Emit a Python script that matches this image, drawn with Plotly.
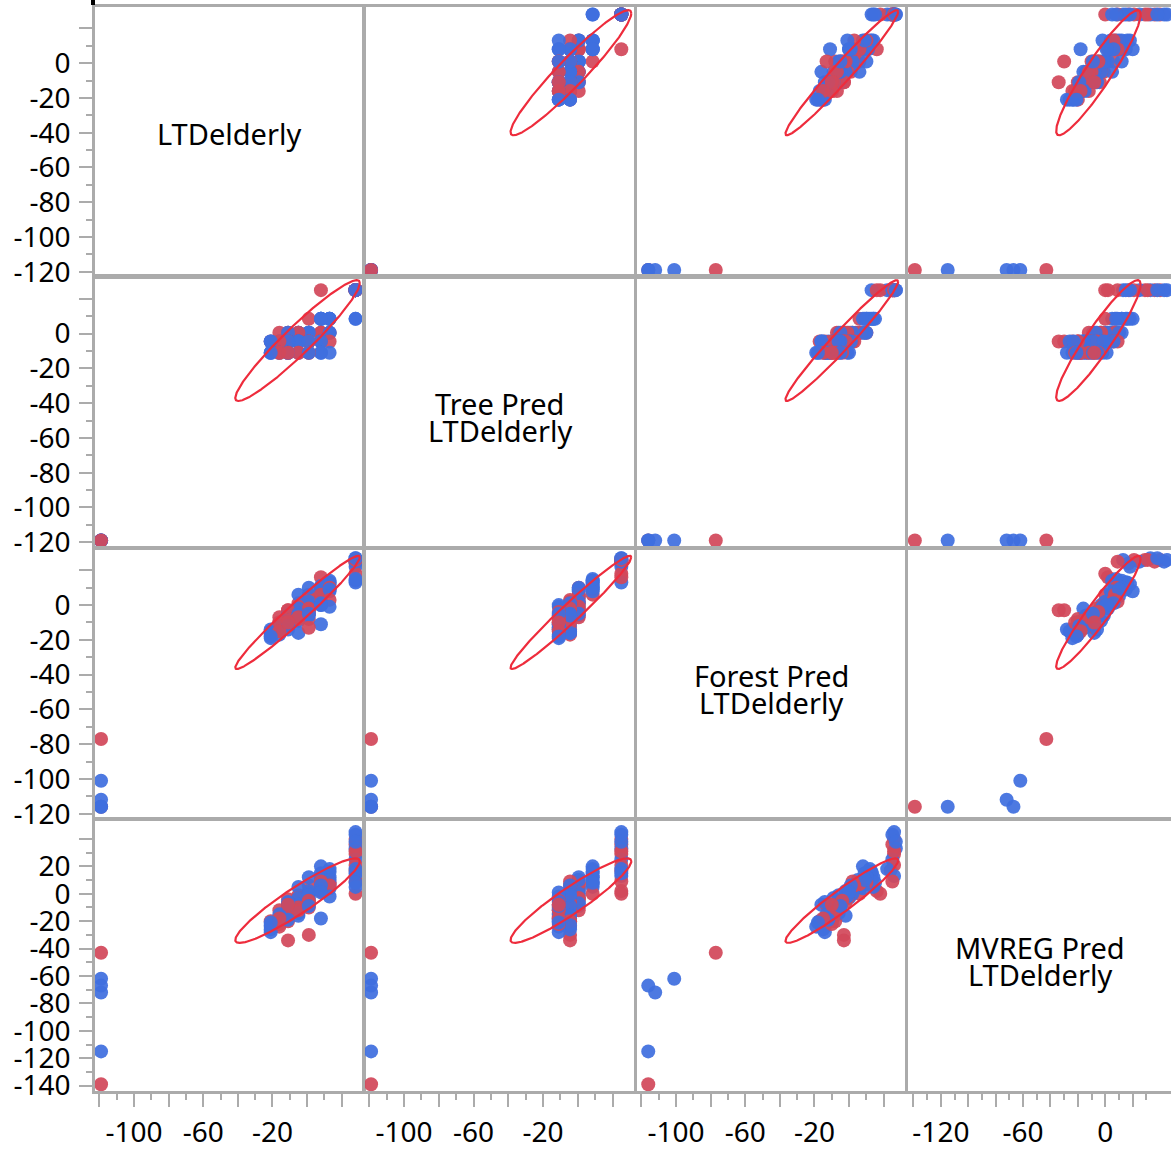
import numpy as np
import plotly.graph_objects as go

# ---------------- data ----------------
diag_titles = [["LTDelderly"], ["Tree Pred", "LTDelderly"],
               ["Forest Pred", "LTDelderly"], ["MVREG Pred", "LTDelderly"]]

ltd = [28, 28, 28, 28, 28, 28, 28, 28, 28, 28, 28, 28, 8, 28, 28, 28, 28,
       28, 13, 13, 8, 8, 13, 1, 8, 13, 8, 28,
       13, 13, 8, 8, 1, 1, 1, -5, -5, -11, -11, -16, 1, -5, 8, 1, -5, 13, -11,
       8, 8, 13, 1, 1, 1, -5, -5, -5, -11, -11, -11, -16, -16, -21, -21, -5, 8, 1, -5, -11, -16, -21, 1,
       8, 13, 8, 1, 1, -5, -5, -11, -11, -16, -16, -21, -21, -16, -11, -5, -11, -16, -21, 1, -11,
       -119, -119, -119, -119, -119, -119]
tree = [25, 25, 25, 25, 25, 25, 25, 25, 25, 25, 25, 25, 25, 25, 25, 25, 25,
        8.5, 8.5, 8.5, 8.5, 8.5, 8.5, 8.5, 8.5, 8.5, 8.5, 8.5,
        0.5, 0.5, 0.5, 0.5, 0.5, 0.5, 0.5, 0.5, 0.5, 0.5, 0.5, 0.5, 0.5, 0.5, 0.5, 0.5, 0.5, 0.5, 0.5,
        -4.5, -4.5, -4.5, -4.5, -4.5, -4.5, -4.5, -4.5, -4.5, -4.5, -4.5, -4.5, -4.5, -4.5, -4.5, -4.5, -4.5,
        -4.5, -4.5, -4.5, -4.5, -4.5, -4.5, -4.5,
        -11, -11, -11, -11, -11, -11, -11, -11, -11, -11, -11, -11, -11, -11, -11, -11, -11, -11, -11, -11, -11,
        -119, -119, -119, -119, -119, -119]
forest = [26, 25, 27, 26, 25, 26, 24, 26, 25, 22, 18, 13, 16, 26, 25, 26, 27,
          14, 12, 14, 9, 11, 10, 6, 8, 13, 10, 15,
          10, 8, 5, 2, 4, 0, -2, 1, -4, -6, -3, -7, 10, 6, 6, 2, -1, 9, -5,
          2, 0, 3, -3, -5, -8, -6, -9, -2, -3, -10, -8, -12, -14, -17, -15, -16, 1, -2, -5, -9, -10, -16, -6,
          -11, -1, 0, -13, -4, -8, -6, -11, -9, -13, -17, -19, -14, -10, -14, -7, -12, -15, -18, -5, -10,
          -116, -101, -112, -116, -116, -77]
mvreg = [40, 36, 33, 29, 25, 21, 17, 13, 9, 18, 0, 15, 2, 45, 43, 31, 38,
         5, 18, 12, 15, 9, 7, 0, 20, 16, 12, 8,
         8, 4, 10, 3, 6, -3, 2, -1, -6, -9, -4, -12, 12, 5, 7, 0, -3, 10, -7,
         9, 3, 6, -30, -5, -10, -12, -3, -16, -34, -14, -20, -18, -24, -20, -26, -8, 6, -6, -9, -16, -20, -23, -1,
         -18, -2, 1, -8, -5, -10, -14, -12, -17, -15, -20, -24, -28, -22, -6, -12, -19, -18, -21, -9, -8,
         -139, -62, -72, -67, -115, -43]
group = ["R", "R", "B", "R", "B", "R", "R", "B", "R", "B", "R", "B", "R", "B", "B", "R", "B",
         "B", "B", "B", "B", "B", "B", "R", "B", "B", "B", "B",
         "R", "B", "B", "R", "R", "B", "B", "R", "B", "B", "R", "R", "B", "B", "R", "B", "R", "B", "B",
         "R", "B", "R", "R", "B", "R", "R", "B", "B", "R", "B", "R", "B", "R", "R", "B", "B", "B", "R", "B", "B", "R", "B", "B",
         "B", "B", "B", "R", "R", "R", "B", "B", "R", "B", "B", "B", "B", "R", "B", "R", "B", "R", "B", "B", "R",
         "R", "B", "B", "B", "B", "R"]

# density-ellipse statistics read from the drawn ellipses
ell_mean = [-5.5, -4.0, -4.2, -5.0]
ell_sd = [14.7, 14.2, 13.3, 12.6]
ell_corr = [[1.0, 0.95, 0.975, 0.93],
            [0.95, 1.0, 0.975, 0.93],
            [0.975, 0.975, 1.0, 0.95],
            [0.93, 0.93, 0.95, 1.0]]

# tick values / labels
x_tickvals_a = [-120, -100, -80, -60, -40, -20, 0, 20]
x_ticktext_a = ["", "-100", "", "-60", "", "-20", "", ""]
x_minor_a = [-110, -90, -70, -50, -30, -10, 10]
x_tickvals_b = [-140, -120, -100, -80, -60, -40, -20, 0, 20]
x_ticktext_b = ["", "-120", "", "", "-60", "", "", "0", ""]
x_minor_b = [-130, -110, -90, -70, -50, -30, -10, 10, 30]
y_tickvals_a = [-120, -100, -80, -60, -40, -20, 0, 20]
y_ticktext_a = ["-120", "-100", "-80", "-60", "-40", "-20", "0", ""]
y_minor_a = [-110, -90, -70, -50, -30, -10, 10]
y_tickvals_b = [-140, -120, -100, -80, -60, -40, -20, 0, 20, 40]
y_ticktext_b = ["-140", "-120", "-100", "-80", "-60", "-40", "-20", "0", "20", ""]
y_minor_b = [-130, -110, -90, -70, -50, -30, -10, 10, 30]

# ---------------- layout geometry (reference pixels of a 1171 x 1149 picture) ----------------
W, H = 1171, 1149          # reference picture size (positions below are fractions of it)
FIG_W, FIG_H = 1174, 1164  # page size that ends up as the 1171 x 1149 picture
col_px = [(95, 363), (365, 634), (637, 905), (908, 1171)]
row_px = [(7, 276), (277, 546), (548, 817), (819, 1089)]
x_ranges = [[-122.5, 32.3], [-122.5, 32.3], [-122.5, 32.3], [-144, 48]]
y_ranges = [[-122.7, 32.3], [-122.7, 32.3], [-122.7, 32.3], [-143.8, 53.5]]

BLUE = "#3F6FDF"
RED = "#D2485A"
ELL = "#EE2C3C"
FRAME = "#ABABAB"
FONT = "Noto Sans, Open Sans, sans-serif"

data = [ltd, tree, forest, mvreg]
colors = [BLUE if g == "B" else RED for g in group]

fig = go.Figure()
cval = np.sqrt(-2 * np.log(0.05))
tt = np.linspace(0, 2 * np.pi, 400)
layout = {}

for i in range(4):
    for j in range(4):
        k = i * 4 + j + 1
        xa = "x" if k == 1 else f"x{k}"
        ya = "y" if k == 1 else f"y{k}"
        if i != j:
            fig.add_trace(go.Scatter(
                x=data[j], y=data[i], mode="markers", xaxis=xa, yaxis=ya,
                marker=dict(size=14, color=colors, opacity=0.93, line=dict(width=0)),
                showlegend=False, hoverinfo="skip"))
            mx, my = ell_mean[j], ell_mean[i]
            sx, sy = ell_sd[j], ell_sd[i]
            r = ell_corr[i][j]
            ex = mx + cval * sx * np.cos(tt)
            ey = my + cval * sy * (r * np.cos(tt) + np.sqrt(1 - r * r) * np.sin(tt))
            fig.add_trace(go.Scatter(
                x=ex, y=ey, mode="lines", xaxis=xa, yaxis=ya,
                line=dict(color=ELL, width=2.2), showlegend=False, hoverinfo="skip"))
        else:
            fig.add_trace(go.Scatter(x=[None], y=[None], mode="markers", xaxis=xa, yaxis=ya,
                                     showlegend=False, hoverinfo="skip"))

        xd = dict(domain=[col_px[j][0] / W, col_px[j][1] / W], range=x_ranges[j],
                  anchor=ya, showline=True, mirror=True, linecolor=FRAME, linewidth=2.5,
                  showgrid=False, zeroline=False, fixedrange=True)
        if i == 3:
            tv, tx, mn = (x_tickvals_b, x_ticktext_b, x_minor_b) if j == 3 else (x_tickvals_a, x_ticktext_a, x_minor_a)
            xd.update(ticks="outside", ticklen=13, tickwidth=2, tickcolor=FRAME,
                      tickmode="array", tickvals=tv, ticktext=tx,
                      tickfont=dict(family=FONT, size=28, color="black"),
                      ticklabelstandoff=2,
                      minor=dict(ticks="outside", ticklen=6, tickwidth=2, tickcolor=FRAME,
                                 tickvals=mn, showgrid=False))
        else:
            xd.update(showticklabels=False, ticks="")
        yd = dict(domain=[1 - row_px[i][1] / H, 1 - row_px[i][0] / H], range=y_ranges[i],
                  anchor=xa, showline=True, mirror=True, linecolor=FRAME, linewidth=2.5,
                  showgrid=False, zeroline=False, fixedrange=True)
        if j == 0:
            tv, tx, mn = (y_tickvals_b, y_ticktext_b, y_minor_b) if i == 3 else (y_tickvals_a, y_ticktext_a, y_minor_a)
            yd.update(ticks="outside", ticklen=13, tickwidth=2, tickcolor=FRAME,
                      tickmode="array", tickvals=tv, ticktext=tx,
                      tickfont=dict(family=FONT, size=28, color="black"),
                      ticklabelstandoff=3,
                      minor=dict(ticks="outside", ticklen=6, tickwidth=2, tickcolor=FRAME,
                                 tickvals=mn, showgrid=False))
        else:
            yd.update(showticklabels=False, ticks="")
        layout["xaxis" if k == 1 else f"xaxis{k}"] = xd
        layout["yaxis" if k == 1 else f"yaxis{k}"] = yd

# diagonal titles
annotations = []
for d in range(4):
    cx = (col_px[d][0] + col_px[d][1]) / 2
    cy = (row_px[d][0] + row_px[d][1]) / 2
    lines = diag_titles[d]
    if len(lines) == 1:
        ys = [cy - 8]
    else:
        ys = [cy + 5 - 13.5, cy + 5 + 13.5]
    for txt, yy in zip(lines, ys):
        annotations.append(dict(x=cx / W, y=1 - yy / H, xref="paper", yref="paper",
                                text=txt, showarrow=False, xanchor="center", yanchor="middle",
                                font=dict(family=FONT, size=29, color="black")))

fig.update_layout(
    width=FIG_W, height=FIG_H, margin=dict(l=0, r=0, t=0, b=0),
    paper_bgcolor="white", plot_bgcolor="white",
    showlegend=False, annotations=annotations,
    shapes=[dict(type="rect", xref="paper", yref="paper", x0=91 / W, x1=95 / W,
                 y0=1 - 5 / H, y1=1.0, fillcolor="black", line=dict(width=0))],
    **layout)

# remove the default page margin (runs synchronously while the page is parsed)
page_css = ("var s=document.createElement('style');"
            "s.textContent='html,body{margin:0;padding:0;overflow:hidden;}';"
            "document.head.appendChild(s);document.body.style.margin='0px';")
fig.write_html("out.html", config={"displayModeBar": False},
               post_script="});" + page_css + "(function(){")
